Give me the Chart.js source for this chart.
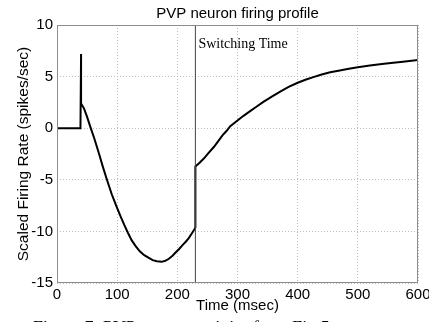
<!DOCTYPE html>
<html>
<head>
<meta charset="utf-8">
<script src="https://cdn.jsdelivr.net/npm/chart.js@4"></script>
<style>
  html, body { margin: 0; padding: 0; background: #fff; overflow: hidden; }
  #wrap { position: relative; width: 429px; height: 322px; }
  #caption { position: absolute; left: 33px; top: 318px; font: 18px "Liberation Serif", serif; color: #000; white-space: nowrap; }
</style>
</head>
<body>
<div id="wrap">
  <canvas id="grafico" width="429" height="322"></canvas>
  <div id="caption">Figure 7: PVP neuron activity from Fig 5</div>
</div>
<script>
// firing profile (time in msec, scaled rate)
const tiempos = [0, 39, 40, 40, 45, 50, 55, 62, 70, 76, 83, 91, 99, 106, 112, 118, 124, 131, 138, 145, 152, 159, 166, 174,
  180, 186, 192, 197, 203, 209, 214, 219, 224, 229, 230,
  230, 237, 244, 252, 261, 268, 275, 282, 288, 300, 310, 321, 332, 343, 357, 371, 385, 400, 413, 426, 440, 454, 470, 485,
  500, 520, 540, 555, 575, 600];
const tasas = [0, 0, 7.2, 2.4, 1.9, 1.1, 0.2, -1.0, -2.5, -3.7, -5.0, -6.4, -7.6, -8.6, -9.4, -10.15, -10.85, -11.45, -11.95, -12.3, -12.55, -12.78, -12.9, -12.95,
  -12.85, -12.65, -12.35, -12.05, -11.7, -11.3, -11.0, -10.65, -10.2, -9.75, -9.6,
  -3.7, -3.35, -2.94, -2.4, -1.8, -1.25, -0.7, -0.25, 0.2, 0.75, 1.2, 1.65, 2.1, 2.55, 3.05, 3.55, 4.0, 4.4, 4.7, 4.95, 5.2, 5.42, 5.6, 5.75,
  5.9, 6.07, 6.22, 6.32, 6.45, 6.6];
const tiempoCambio = 230;
const xTicks = [0, 100, 200, 300, 400, 500, 600];
const yTicks = [-15, -10, -5, 0, 5, 10];

const puntos = tiempos.map((t, i) => ({ x: t, y: tasas[i] }));
const fuente = '"Liberation Sans", Arial, sans-serif';

const marcoPlugin = {
  id: 'marco',
  afterDraw(chart) {
    const { ctx, chartArea: a, scales } = chart;
    ctx.save();
    ctx.strokeStyle = '#8c8c8c';
    ctx.lineWidth = 1;
    ctx.strokeRect(a.left + 0.5, a.top + 0.5, a.right - a.left - 1, a.bottom - a.top - 1);
    ctx.fillStyle = '#000';
    ctx.textBaseline = 'middle';
    // etiqueta del tiempo de cambio
    ctx.font = '14px "Liberation Serif", serif';
    ctx.fillText('Switching Time', scales.x.getPixelForValue(tiempoCambio) + 3, 44);
    // titulos
    ctx.textAlign = 'center';
    ctx.font = '15px ' + fuente;
    ctx.fillText('PVP neuron firing profile', (a.left + a.right) / 2, 14);
    ctx.fillText('Time (msec)', (a.left + a.right) / 2, 306);
    ctx.translate(24, (a.top + a.bottom) / 2);
    ctx.rotate(-Math.PI / 2);
    ctx.font = '15.5px ' + fuente;
    ctx.fillText('Scaled Firing Rate (spikes/sec)', 0, 0);
    ctx.restore();
  }
};

new Chart(document.getElementById('grafico').getContext('2d'), {
  type: 'scatter',
  data: {
    datasets: [
      {
        data: [{ x: tiempoCambio, y: -15 }, { x: tiempoCambio, y: 10 }],
        showLine: true,
        borderColor: '#444',
        borderWidth: 1,
        pointRadius: 0,
        tension: 0
      },
      {
        data: puntos,
        showLine: true,
        borderColor: '#000',
        borderWidth: 2,
        pointRadius: 0,
        tension: 0
      }
    ]
  },
  options: {
    responsive: false,
    animation: false,
    layout: { padding: { top: 25, right: 11, left: 0, bottom: 0 } },
    plugins: { legend: { display: false }, tooltip: { enabled: false }, title: { display: false } },
    scales: {
      x: {
        type: 'linear',
        min: 0,
        max: 600,
        afterBuildTicks: s => { s.ticks = xTicks.map(v => ({ value: v })); },
        afterFit: s => { s.height = 39; s.paddingLeft = 0; s.paddingRight = 0; },
        grid: { color: '#bdbdbd', drawTicks: false, tickLength: 0 },
        border: { display: false, dash: [1, 2] },
        ticks: { color: '#000', padding: 3, maxRotation: 0, font: { size: 15, family: fuente } }
      },
      y: {
        type: 'linear',
        min: -15,
        max: 10,
        afterBuildTicks: s => { s.ticks = yTicks.map(v => ({ value: v })); },
        afterFit: s => { s.width = 57; s.paddingTop = 0; s.paddingBottom = 0; },
        grid: { color: '#bdbdbd', drawTicks: false, tickLength: 0 },
        border: { display: false, dash: [1, 2] },
        ticks: { color: '#000', padding: 4, font: { size: 15, family: fuente } }
      }
    }
  },
  plugins: [marcoPlugin]
});
</script>
</body>
</html>
